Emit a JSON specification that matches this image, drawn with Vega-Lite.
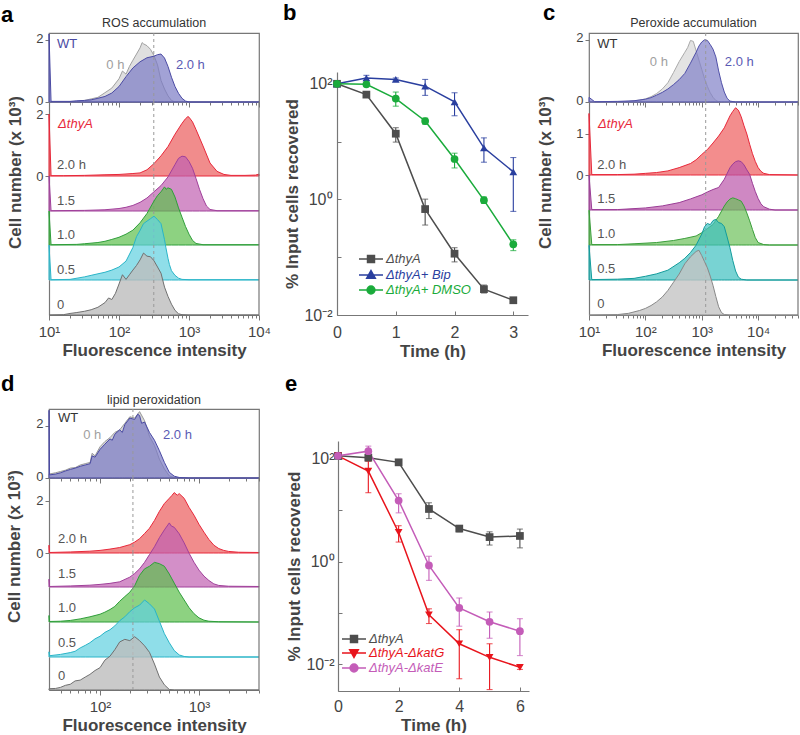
{
"$schema":"https://vega.github.io/schema/vega-lite/v6.json",
"padding":{"left":1,"top":2,"right":0,"bottom":0},
"background":"white",
"config":{"font":"Liberation Sans","view":{"stroke":null},
"axis":{"grid":false,"labelFont":"Liberation Sans","labelColor":"#444","labelFontSize":15,"titleFont":"Liberation Sans","titleFontSize":17,"titleFontWeight":"bold","titleColor":"#444","domainColor":"#777","tickColor":"#777","labelFlush":false,"labelOverlap":false,"domainWidth":1.2,"tickWidth":1},
"title":{"font":"Liberation Sans","color":"#333"},"legend":{"labelFont":"Liberation Sans"},"text":{"font":"Liberation Sans"}},
"datasets":{
"a_wt0":[{"x":10,"y":0},{"x":25,"y":0.01},{"x":32,"y":0.05},{"x":40,"y":0.1},{"x":50,"y":0.15},{"x":63,"y":0.3},{"x":79,"y":0.45},{"x":100,"y":0.75},{"x":112,"y":1.0},{"x":126,"y":0.9},{"x":141,"y":1.15},{"x":158,"y":1.35},{"x":178,"y":1.55},{"x":200,"y":1.75},{"x":214,"y":1.92},{"x":224,"y":1.88},{"x":251,"y":1.82},{"x":282,"y":1.7},{"x":316,"y":1.5},{"x":355,"y":1.2},{"x":398,"y":0.7},{"x":447,"y":0.42},{"x":501,"y":0.2},{"x":562,"y":0.05},{"x":631,"y":0},{"x":10000,"y":0}],
"a_wt2":[{"x":10,"y":2.2},{"x":10.7,"y":0.02},{"x":20,"y":0.02},{"x":25,"y":0.04},{"x":32,"y":0.05},{"x":40,"y":0.07},{"x":50,"y":0.12},{"x":63,"y":0.18},{"x":79,"y":0.29},{"x":100,"y":0.5},{"x":126,"y":0.82},{"x":158,"y":1.1},{"x":200,"y":1.3},{"x":251,"y":1.43},{"x":316,"y":1.48},{"x":355,"y":1.53},{"x":398,"y":1.55},{"x":447,"y":1.42},{"x":501,"y":1.15},{"x":562,"y":0.8},{"x":631,"y":0.5},{"x":708,"y":0.28},{"x":794,"y":0.12},{"x":891,"y":0.03},{"x":1000,"y":0},{"x":10000,"y":0}],
"a_20":[{"x":10,"y":2.0},{"x":10.7,"y":0.01},{"x":16,"y":0.01},{"x":32,"y":0.02},{"x":63,"y":0.04},{"x":100,"y":0.05},{"x":158,"y":0.08},{"x":200,"y":0.1},{"x":251,"y":0.2},{"x":316,"y":0.4},{"x":398,"y":0.65},{"x":501,"y":0.95},{"x":631,"y":1.35},{"x":794,"y":1.7},{"x":891,"y":1.85},{"x":966,"y":1.92},{"x":1000,"y":1.9},{"x":1122,"y":1.75},{"x":1259,"y":1.5},{"x":1585,"y":0.97},{"x":1995,"y":0.42},{"x":2512,"y":0.15},{"x":3162,"y":0.05},{"x":3981,"y":0.02},{"x":6310,"y":0.02},{"x":8913,"y":0.03},{"x":10000,"y":0.06}],
"a_15":[{"x":10,"y":1.13},{"x":10.7,"y":0.01},{"x":32,"y":0.02},{"x":63,"y":0.04},{"x":100,"y":0.08},{"x":126,"y":0.12},{"x":158,"y":0.18},{"x":200,"y":0.28},{"x":251,"y":0.42},{"x":316,"y":0.62},{"x":398,"y":0.82},{"x":501,"y":1.1},{"x":631,"y":1.5},{"x":708,"y":1.7},{"x":794,"y":1.77},{"x":891,"y":1.75},{"x":1000,"y":1.6},{"x":1122,"y":1.38},{"x":1259,"y":1.05},{"x":1413,"y":0.7},{"x":1585,"y":0.4},{"x":1778,"y":0.16},{"x":1995,"y":0.05},{"x":2512,"y":0.01},{"x":10000,"y":0.01}],
"a_10":[{"x":10,"y":1.1},{"x":10.7,"y":0.01},{"x":25,"y":0.02},{"x":32,"y":0.04},{"x":50,"y":0.08},{"x":63,"y":0.12},{"x":79,"y":0.18},{"x":100,"y":0.25},{"x":126,"y":0.35},{"x":158,"y":0.48},{"x":200,"y":0.72},{"x":251,"y":1.02},{"x":316,"y":1.42},{"x":355,"y":1.6},{"x":398,"y":1.72},{"x":447,"y":1.88},{"x":470,"y":1.8},{"x":501,"y":1.85},{"x":562,"y":1.8},{"x":631,"y":1.55},{"x":708,"y":1.2},{"x":794,"y":0.9},{"x":891,"y":0.6},{"x":1000,"y":0.35},{"x":1122,"y":0.15},{"x":1259,"y":0.05},{"x":1585,"y":0.01},{"x":10000,"y":0.01}],
"a_05":[{"x":10,"y":1.13},{"x":10.7,"y":0.01},{"x":20,"y":0.02},{"x":32,"y":0.1},{"x":40,"y":0.15},{"x":50,"y":0.2},{"x":63,"y":0.25},{"x":79,"y":0.32},{"x":100,"y":0.42},{"x":126,"y":0.61},{"x":158,"y":1.05},{"x":178,"y":1.4},{"x":200,"y":1.6},{"x":224,"y":1.82},{"x":251,"y":1.9},{"x":282,"y":1.98},{"x":316,"y":2.06},{"x":355,"y":1.95},{"x":398,"y":1.82},{"x":447,"y":1.3},{"x":468,"y":1.04},{"x":501,"y":0.7},{"x":525,"y":0.5},{"x":562,"y":0.3},{"x":631,"y":0.15},{"x":708,"y":0.06},{"x":794,"y":0.02},{"x":1000,"y":0.01},{"x":10000,"y":0.01}],
"a_00":[{"x":10,"y":0},{"x":16,"y":0.01},{"x":20,"y":0.05},{"x":25,"y":0.08},{"x":32,"y":0.12},{"x":40,"y":0.17},{"x":50,"y":0.25},{"x":63,"y":0.4},{"x":71,"y":0.55},{"x":79,"y":0.5},{"x":89,"y":0.7},{"x":100,"y":1.0},{"x":112,"y":1.3},{"x":126,"y":1.15},{"x":141,"y":1.3},{"x":158,"y":1.45},{"x":178,"y":1.6},{"x":200,"y":1.78},{"x":224,"y":2.0},{"x":251,"y":1.9},{"x":282,"y":1.88},{"x":316,"y":1.75},{"x":355,"y":1.55},{"x":398,"y":1.35},{"x":447,"y":0.9},{"x":501,"y":0.6},{"x":562,"y":0.35},{"x":631,"y":0.15},{"x":708,"y":0.04},{"x":794,"y":0.01},{"x":1000,"y":0},{"x":10000,"y":0}],
"c_wt0":[{"x":10,"y":0},{"x":32,"y":0.01},{"x":50,"y":0.02},{"x":79,"y":0.06},{"x":100,"y":0.1},{"x":126,"y":0.17},{"x":158,"y":0.27},{"x":200,"y":0.42},{"x":251,"y":0.62},{"x":316,"y":0.95},{"x":398,"y":1.3},{"x":501,"y":1.6},{"x":562,"y":1.75},{"x":631,"y":1.98},{"x":708,"y":1.95},{"x":794,"y":1.65},{"x":891,"y":1.35},{"x":1000,"y":1.05},{"x":1122,"y":0.75},{"x":1259,"y":0.5},{"x":1413,"y":0.3},{"x":1585,"y":0.15},{"x":1778,"y":0.05},{"x":1995,"y":0.01},{"x":2512,"y":0},{"x":51000,"y":0}],
"c_wt2":[{"x":10,"y":0.15},{"x":12.6,"y":0.01},{"x":32,"y":0.02},{"x":63,"y":0.04},{"x":100,"y":0.09},{"x":126,"y":0.14},{"x":158,"y":0.22},{"x":200,"y":0.31},{"x":251,"y":0.42},{"x":316,"y":0.56},{"x":398,"y":0.72},{"x":501,"y":0.92},{"x":631,"y":1.25},{"x":794,"y":1.6},{"x":891,"y":1.8},{"x":1000,"y":1.93},{"x":1122,"y":2.0},{"x":1259,"y":1.98},{"x":1413,"y":1.85},{"x":1585,"y":1.7},{"x":1778,"y":1.45},{"x":1995,"y":1.0},{"x":2239,"y":0.62},{"x":2512,"y":0.32},{"x":2818,"y":0.12},{"x":3162,"y":0.03},{"x":3981,"y":0},{"x":51000,"y":0}],
"c_20":[{"x":10,"y":1.5},{"x":11.2,"y":0.01},{"x":32,"y":0.01},{"x":63,"y":0.02},{"x":100,"y":0.04},{"x":158,"y":0.06},{"x":251,"y":0.1},{"x":398,"y":0.18},{"x":631,"y":0.28},{"x":794,"y":0.37},{"x":1000,"y":0.5},{"x":1259,"y":0.62},{"x":1585,"y":0.78},{"x":1995,"y":0.95},{"x":2512,"y":1.15},{"x":3162,"y":1.44},{"x":3548,"y":1.55},{"x":3981,"y":1.64},{"x":4467,"y":1.58},{"x":5012,"y":1.42},{"x":5623,"y":1.2},{"x":6310,"y":1.0},{"x":7079,"y":0.75},{"x":7943,"y":0.52},{"x":8913,"y":0.33},{"x":10000,"y":0.18},{"x":11220,"y":0.09},{"x":12589,"y":0.04},{"x":15849,"y":0.01},{"x":51000,"y":0}],
"c_15":[{"x":10,"y":0.85},{"x":11.2,"y":0.01},{"x":32,"y":0.01},{"x":100,"y":0.05},{"x":200,"y":0.1},{"x":398,"y":0.18},{"x":631,"y":0.27},{"x":1000,"y":0.37},{"x":1259,"y":0.44},{"x":1585,"y":0.5},{"x":1995,"y":0.55},{"x":2512,"y":0.75},{"x":3162,"y":1.03},{"x":3548,"y":1.12},{"x":3981,"y":1.18},{"x":4467,"y":1.2},{"x":5012,"y":1.18},{"x":5623,"y":1.1},{"x":6310,"y":0.98},{"x":7079,"y":0.87},{"x":7943,"y":0.65},{"x":8913,"y":0.45},{"x":10000,"y":0.28},{"x":11220,"y":0.15},{"x":12589,"y":0.08},{"x":15849,"y":0.02},{"x":19953,"y":0},{"x":51000,"y":0}],
"c_10":[{"x":10,"y":0.85},{"x":11.2,"y":0.01},{"x":32,"y":0.01},{"x":63,"y":0.03},{"x":158,"y":0.06},{"x":316,"y":0.11},{"x":501,"y":0.16},{"x":794,"y":0.22},{"x":1000,"y":0.3},{"x":1259,"y":0.4},{"x":1585,"y":0.5},{"x":1995,"y":0.7},{"x":2512,"y":0.95},{"x":2818,"y":1.05},{"x":3162,"y":1.12},{"x":3548,"y":1.15},{"x":3981,"y":1.13},{"x":4467,"y":1.1},{"x":5012,"y":1.07},{"x":5623,"y":0.95},{"x":6310,"y":0.78},{"x":7079,"y":0.59},{"x":7943,"y":0.38},{"x":8913,"y":0.18},{"x":10000,"y":0.06},{"x":12589,"y":0.01},{"x":15849,"y":0},{"x":51000,"y":0}],
"c_05":[{"x":10,"y":0.85},{"x":11.2,"y":0.01},{"x":32,"y":0.02},{"x":63,"y":0.04},{"x":100,"y":0.09},{"x":158,"y":0.15},{"x":251,"y":0.24},{"x":398,"y":0.42},{"x":501,"y":0.53},{"x":631,"y":0.67},{"x":794,"y":0.85},{"x":1000,"y":1.12},{"x":1122,"y":1.3},{"x":1259,"y":1.38},{"x":1413,"y":1.35},{"x":1585,"y":1.45},{"x":1778,"y":1.48},{"x":1995,"y":1.4},{"x":2239,"y":1.38},{"x":2512,"y":1.3},{"x":2818,"y":1.05},{"x":3162,"y":0.79},{"x":3548,"y":0.48},{"x":3981,"y":0.22},{"x":4467,"y":0.07},{"x":5012,"y":0.02},{"x":6310,"y":0},{"x":51000,"y":0}],
"c_00":[{"x":10,"y":0},{"x":32,"y":0.01},{"x":50,"y":0.04},{"x":79,"y":0.11},{"x":100,"y":0.16},{"x":126,"y":0.23},{"x":158,"y":0.32},{"x":200,"y":0.44},{"x":251,"y":0.6},{"x":316,"y":0.8},{"x":398,"y":1.0},{"x":501,"y":1.25},{"x":631,"y":1.42},{"x":794,"y":1.55},{"x":891,"y":1.58},{"x":1000,"y":1.45},{"x":1122,"y":1.3},{"x":1259,"y":1.15},{"x":1413,"y":0.95},{"x":1585,"y":0.72},{"x":1778,"y":0.45},{"x":1995,"y":0.2},{"x":2239,"y":0.06},{"x":2512,"y":0.01},{"x":3162,"y":0},{"x":51000,"y":0}],
"d_wt0":[{"x":30.5,"y":0.15},{"x":35.5,"y":0.2},{"x":39.8,"y":0.25},{"x":44.7,"y":0.3},{"x":50.1,"y":0.38},{"x":56.2,"y":0.4},{"x":63.1,"y":0.5},{"x":70.8,"y":0.55},{"x":79.4,"y":0.6},{"x":83.2,"y":0.95},{"x":89.1,"y":0.85},{"x":100,"y":1.2},{"x":112,"y":1.4},{"x":126,"y":1.55},{"x":141,"y":1.75},{"x":158,"y":1.85},{"x":178,"y":2.1},{"x":200,"y":2.35},{"x":224,"y":2.3},{"x":251,"y":2.55},{"x":282,"y":2.2},{"x":316,"y":1.6},{"x":355,"y":1.25},{"x":398,"y":0.72},{"x":447,"y":0.35},{"x":501,"y":0.08},{"x":562,"y":0.02},{"x":631,"y":0},{"x":4040,"y":0}],
"d_wt2":[{"x":30.5,"y":2.6},{"x":30.9,"y":0.12},{"x":35.5,"y":0.15},{"x":39.8,"y":0.2},{"x":44.7,"y":0.27},{"x":50.1,"y":0.33},{"x":56.2,"y":0.38},{"x":63.1,"y":0.45},{"x":70.8,"y":0.5},{"x":79.4,"y":0.55},{"x":83.2,"y":0.85},{"x":89.1,"y":0.8},{"x":100,"y":1.1},{"x":112,"y":1.3},{"x":126,"y":1.5},{"x":133,"y":1.45},{"x":141,"y":1.68},{"x":158,"y":1.85},{"x":168,"y":1.75},{"x":178,"y":2.05},{"x":200,"y":2.3},{"x":224,"y":2.25},{"x":240,"y":2.45},{"x":251,"y":2.4},{"x":263,"y":2.1},{"x":282,"y":2.15},{"x":316,"y":1.75},{"x":355,"y":1.45},{"x":398,"y":1.05},{"x":447,"y":0.6},{"x":501,"y":0.22},{"x":562,"y":0.07},{"x":631,"y":0.02},{"x":794,"y":0},{"x":4040,"y":0}],
"d_20":[{"x":30.5,"y":0.3},{"x":30.9,"y":0.02},{"x":50,"y":0.04},{"x":79,"y":0.07},{"x":100,"y":0.1},{"x":126,"y":0.15},{"x":158,"y":0.21},{"x":200,"y":0.32},{"x":224,"y":0.42},{"x":251,"y":0.55},{"x":282,"y":0.75},{"x":316,"y":0.95},{"x":355,"y":1.25},{"x":398,"y":1.6},{"x":447,"y":1.9},{"x":501,"y":2.1},{"x":530,"y":2.2},{"x":562,"y":2.32},{"x":603,"y":2.22},{"x":631,"y":2.28},{"x":708,"y":2.1},{"x":794,"y":1.75},{"x":891,"y":1.45},{"x":1000,"y":1.1},{"x":1122,"y":0.8},{"x":1259,"y":0.52},{"x":1413,"y":0.3},{"x":1585,"y":0.17},{"x":1778,"y":0.1},{"x":1995,"y":0.06},{"x":2512,"y":0.03},{"x":4040,"y":0.02}],
"d_15":[{"x":30.5,"y":0.3},{"x":30.9,"y":0.02},{"x":50,"y":0.04},{"x":79,"y":0.07},{"x":100,"y":0.1},{"x":126,"y":0.14},{"x":158,"y":0.2},{"x":200,"y":0.38},{"x":224,"y":0.52},{"x":251,"y":0.7},{"x":282,"y":0.95},{"x":316,"y":1.25},{"x":355,"y":1.55},{"x":398,"y":1.9},{"x":447,"y":2.2},{"x":501,"y":2.47},{"x":525,"y":2.35},{"x":562,"y":2.3},{"x":631,"y":2.05},{"x":708,"y":1.7},{"x":794,"y":1.3},{"x":891,"y":0.95},{"x":1000,"y":0.65},{"x":1122,"y":0.42},{"x":1259,"y":0.25},{"x":1413,"y":0.12},{"x":1585,"y":0.06},{"x":1995,"y":0.03},{"x":4040,"y":0.02}],
"d_10":[{"x":30.5,"y":0.25},{"x":30.9,"y":0.02},{"x":39.8,"y":0.03},{"x":50,"y":0.06},{"x":63,"y":0.12},{"x":79,"y":0.2},{"x":100,"y":0.3},{"x":112,"y":0.38},{"x":126,"y":0.48},{"x":141,"y":0.6},{"x":158,"y":0.8},{"x":178,"y":0.98},{"x":200,"y":1.15},{"x":224,"y":1.4},{"x":251,"y":1.8},{"x":282,"y":2.05},{"x":316,"y":2.15},{"x":355,"y":2.3},{"x":398,"y":2.25},{"x":447,"y":2.15},{"x":501,"y":1.85},{"x":562,"y":1.5},{"x":631,"y":1.15},{"x":708,"y":0.85},{"x":794,"y":0.55},{"x":891,"y":0.32},{"x":1000,"y":0.16},{"x":1122,"y":0.07},{"x":1259,"y":0.03},{"x":1585,"y":0.01},{"x":4040,"y":0}],
"d_05":[{"x":30.5,"y":0.2},{"x":30.9,"y":0.05},{"x":39.8,"y":0.1},{"x":50,"y":0.17},{"x":56,"y":0.22},{"x":63,"y":0.35},{"x":71,"y":0.45},{"x":79,"y":0.55},{"x":89,"y":0.7},{"x":100,"y":0.8},{"x":112,"y":0.95},{"x":126,"y":1.05},{"x":141,"y":1.2},{"x":158,"y":1.4},{"x":178,"y":1.55},{"x":200,"y":1.75},{"x":224,"y":1.9},{"x":251,"y":2.0},{"x":282,"y":2.2},{"x":316,"y":2.05},{"x":355,"y":1.85},{"x":398,"y":1.38},{"x":447,"y":0.9},{"x":501,"y":0.55},{"x":562,"y":0.25},{"x":631,"y":0.08},{"x":708,"y":0.02},{"x":794,"y":0},{"x":4040,"y":0}],
"d_00":[{"x":30.5,"y":0.05},{"x":35.5,"y":0.06},{"x":39.8,"y":0.1},{"x":44.7,"y":0.18},{"x":50,"y":0.22},{"x":56,"y":0.35},{"x":63,"y":0.38},{"x":71,"y":0.5},{"x":79,"y":0.6},{"x":89,"y":0.75},{"x":100,"y":0.86},{"x":112,"y":1.15},{"x":126,"y":1.3},{"x":141,"y":1.55},{"x":158,"y":1.85},{"x":178,"y":1.95},{"x":200,"y":1.9},{"x":224,"y":2.05},{"x":251,"y":1.9},{"x":282,"y":1.7},{"x":316,"y":1.45},{"x":355,"y":1.0},{"x":398,"y":0.5},{"x":447,"y":0.2},{"x":501,"y":0.02},{"x":562,"y":0},{"x":4040,"y":0}],
"b":[
{"s":"ΔthyA","t":0,"v":100,"lo":96,"hi":104},{"s":"ΔthyA","t":0.5,"v":65,"lo":58,"hi":72},{"s":"ΔthyA","t":1,"v":13.7,"lo":9.8,"hi":17.4},{"s":"ΔthyA","t":1.5,"v":0.68,"lo":0.36,"hi":1.01},{"s":"ΔthyA","t":2,"v":0.115,"lo":0.083,"hi":0.146},{"s":"ΔthyA","t":2.5,"v":0.028,"lo":0.024,"hi":0.033},{"s":"ΔthyA","t":3,"v":0.018,"lo":0.0165,"hi":0.0195},
{"s":"ΔthyA+ Bip","t":0,"v":100,"lo":96,"hi":104},{"s":"ΔthyA+ Bip","t":0.5,"v":126,"lo":112,"hi":140},{"s":"ΔthyA+ Bip","t":1,"v":119,"lo":112,"hi":126},{"s":"ΔthyA+ Bip","t":1.5,"v":91,"lo":63,"hi":119},{"s":"ΔthyA+ Bip","t":2,"v":48.6,"lo":28,"hi":70},{"s":"ΔthyA+ Bip","t":2.5,"v":7.8,"lo":4.4,"hi":11.6},{"s":"ΔthyA+ Bip","t":3,"v":3.0,"lo":0.62,"hi":5.3},
{"s":"ΔthyA+ DMSO","t":0,"v":100,"lo":96,"hi":104},{"s":"ΔthyA+ DMSO","t":0.5,"v":98,"lo":93,"hi":103},{"s":"ΔthyA+ DMSO","t":1,"v":55.5,"lo":41,"hi":72},{"s":"ΔthyA+ DMSO","t":1.5,"v":22.7,"lo":20,"hi":25.5},{"s":"ΔthyA+ DMSO","t":2,"v":5.0,"lo":3.5,"hi":6.3},{"s":"ΔthyA+ DMSO","t":2.5,"v":0.97,"lo":0.85,"hi":1.1},{"s":"ΔthyA+ DMSO","t":3,"v":0.167,"lo":0.13,"hi":0.2}],
"e":[
{"s":"ΔthyA","t":0,"v":115,"lo":110,"hi":120},{"s":"ΔthyA","t":1,"v":106,"lo":100,"hi":112},{"s":"ΔthyA","t":2,"v":86,"lo":80,"hi":92},{"s":"ΔthyA","t":3,"v":10.6,"lo":6.9,"hi":14},{"s":"ΔthyA","t":4,"v":4.4,"lo":3.8,"hi":5.0},{"s":"ΔthyA","t":5,"v":3.0,"lo":2.1,"hi":3.8},{"s":"ΔthyA","t":6,"v":3.16,"lo":1.85,"hi":4.3},
{"s":"ΔthyA-ΔkatG","t":0,"v":115,"lo":110,"hi":120},{"s":"ΔthyA-ΔkatG","t":1,"v":58,"lo":22,"hi":90},{"s":"ΔthyA-ΔkatG","t":2,"v":3.7,"lo":2.4,"hi":5.0},{"s":"ΔthyA-ΔkatG","t":3,"v":0.092,"lo":0.062,"hi":0.12},{"s":"ΔthyA-ΔkatG","t":4,"v":0.025,"lo":0.0052,"hi":0.047},{"s":"ΔthyA-ΔkatG","t":5,"v":0.0136,"lo":0.0032,"hi":0.025},{"s":"ΔthyA-ΔkatG","t":6,"v":0.0087,"lo":0.0079,"hi":0.0096},
{"s":"ΔthyA-ΔkatE","t":0,"v":115,"lo":110,"hi":120},{"s":"ΔthyA-ΔkatE","t":1,"v":142,"lo":106,"hi":178},{"s":"ΔthyA-ΔkatE","t":2,"v":15.5,"lo":8.9,"hi":21},{"s":"ΔthyA-ΔkatE","t":3,"v":0.84,"lo":0.43,"hi":1.27},{"s":"ΔthyA-ΔkatE","t":4,"v":0.125,"lo":0.055,"hi":0.195},{"s":"ΔthyA-ΔkatE","t":5,"v":0.067,"lo":0.032,"hi":0.104},{"s":"ΔthyA-ΔkatE","t":6,"v":0.044,"lo":0.0147,"hi":0.077}]
},
"resolve":{"scale":{"color":"independent","shape":"independent","fill":"independent","stroke":"independent"}},
"vconcat":[
{"resolve":{"scale":{"color":"independent","shape":"independent","fill":"independent","stroke":"independent"}},
 "hconcat":[
 {"resolve":{"scale":{"color":"independent","shape":"independent","fill":"independent","stroke":"independent"}},
  "hconcat":[
  {"vconcat":[
    {"width":210,"height":0,"data":{"values":[]},"mark":"point","encoding":{},
     "title":{"text":"a","anchor":"start","frame":"group","dx":-48,"fontSize":22,"fontWeight":"bold","color":"#000","offset":-31,"baseline":"alphabetic"}},
    {"width":210,"height":69,"view":{"stroke":"#777","strokeWidth":1.2},
     "title":{"text":"ROS accumulation","fontSize":12.5,"fontWeight":"normal","color":"#333","offset":2},
     "layer":[
      {"data":{"name":"a_wt0"},"mark":{"type":"area","fill":"#d9d9d9","fillOpacity":0.85,"stroke":"#a0a0a0","strokeWidth":1},
       "encoding":{"x":{"field":"x","type":"quantitative","scale":{"type":"log","domain":[10,10000],"nice":false},"axis":{"orient":"bottom","values":[10,20,30,40,50,60,70,80,90,100,200,300,400,500,600,700,800,900,1000,2000,3000,4000,5000,6000,7000,8000,9000,10000],"labels":false,"domain":false,"title":null,"tickSize":{"condition":{"test":"datum.value === 10 || datum.value === 100 || datum.value === 1000 || datum.value === 10000","value":5},"value":3}}},
        "y":{"field":"y","type":"quantitative","scale":{"domain":[0,2.23],"nice":false},"axis":{"values":[0,1,2],"title":null,"domain":false,"tickSize":4,"labelFontSize":13,"labelPadding":2,"labelOffset":-2}}}},
      {"data":{"name":"a_wt2"},"mark":{"type":"area","fill":"#7b7bc4","fillOpacity":0.7,"stroke":"#4a4aa3","strokeWidth":1},"encoding":{"x":{"field":"x","type":"quantitative"},"y":{"field":"y","type":"quantitative"}}},
      {"data":{"values":[{}]},"mark":{"type":"rule","stroke":"#999","strokeDash":[3,3],"strokeWidth":1},"encoding":{"x":{"datum":314}}},
      {"data":{"values":[{}]},"mark":{"type":"text","align":"left","baseline":"middle","fontSize":13,"color":"#4a4aa3"},"encoding":{"x":{"datum":13},"y":{"datum":1.87},"text":{"value":"WT"}}},
      {"data":{"values":[{}]},"mark":{"type":"text","align":"left","baseline":"middle","fontSize":13,"color":"#a0a0a0"},"encoding":{"x":{"datum":66},"y":{"datum":1.2},"text":{"value":"0 h"}}},
      {"data":{"values":[{}]},"mark":{"type":"text","align":"left","baseline":"middle","fontSize":13,"color":"#5a5ab4"},"encoding":{"x":{"datum":650},"y":{"datum":1.2},"text":{"value":"2.0 h"}}}
     ]},
    {"width":210,"height":74,
     "layer":[
      {"data":{"name":"a_20"},"mark":{"type":"area","fill":"#ee6f6f","fillOpacity":0.8,"stroke":"#e8283a","strokeWidth":1},
       "encoding":{"x":{"field":"x","type":"quantitative","scale":{"type":"log","domain":[10,10000],"nice":false},"axis":null},
        "y":{"field":"y","type":"quantitative","scale":{"domain":[0,2.39],"nice":false},"axis":{"values":[0,1,2],"title":"Cell number (x 10³)","titleX":-34,"titleY":70,"titleAlign":"center","titleBaseline":"middle","titleAngle":270,"tickSize":4,"labelFontSize":13,"labelPadding":2}}}},
      {"data":{"values":[{}]},"mark":{"type":"rule","stroke":"#999","strokeDash":[3,3],"strokeWidth":1},"encoding":{"x":{"datum":314}}},
      {"data":{"values":[{}]},"mark":{"type":"rule","stroke":"#777","strokeWidth":1.2},"encoding":{"x":{"datum":10000}}},
      {"data":{"values":[{}]},"mark":{"type":"text","align":"left","baseline":"middle","fontSize":13,"fontStyle":"italic","color":"#e8283a"},"encoding":{"x":{"datum":13.5},"y":{"datum":1.68},"text":{"value":"ΔthyA"}}},
      {"data":{"values":[{}]},"mark":{"type":"text","align":"left","baseline":"middle","fontSize":13,"color":"#555"},"encoding":{"x":{"datum":13},"y":{"datum":0.35},"text":{"value":"2.0 h"}}}
     ]},
    {"width":210,"height":35,
     "layer":[
      {"data":{"name":"a_15"},"mark":{"type":"area","fill":"#c060b0","fillOpacity":0.7,"stroke":"#a0409a","strokeWidth":1},
       "encoding":{"x":{"field":"x","type":"quantitative","scale":{"type":"log","domain":[10,10000],"nice":false},"axis":null},
        "y":{"field":"y","type":"quantitative","scale":{"domain":[0,1.13],"nice":false},"axis":{"title":null,"ticks":false,"labels":false}}}},
      {"data":{"values":[{}]},"mark":{"type":"rule","stroke":"#999","strokeDash":[3,3],"strokeWidth":1},"encoding":{"x":{"datum":314}}},
      {"data":{"values":[{}]},"mark":{"type":"rule","stroke":"#777","strokeWidth":1.2},"encoding":{"x":{"datum":10000}}},
      {"data":{"values":[{}]},"mark":{"type":"text","align":"left","baseline":"middle","fontSize":13,"color":"#555"},"encoding":{"x":{"datum":13},"y":{"datum":0.32},"text":{"value":"1.5"}}}
     ]},
    {"width":210,"height":34,
     "layer":[
      {"data":{"name":"a_10"},"mark":{"type":"area","fill":"#5cbf4c","fillOpacity":0.7,"stroke":"#2f9e3a","strokeWidth":1},
       "encoding":{"x":{"field":"x","type":"quantitative","scale":{"type":"log","domain":[10,10000],"nice":false},"axis":null},
        "y":{"field":"y","type":"quantitative","scale":{"domain":[0,1.1],"nice":false},"axis":{"title":null,"ticks":false,"labels":false}}}},
      {"data":{"values":[{}]},"mark":{"type":"rule","stroke":"#999","strokeDash":[3,3],"strokeWidth":1},"encoding":{"x":{"datum":314}}},
      {"data":{"values":[{}]},"mark":{"type":"rule","stroke":"#777","strokeWidth":1.2},"encoding":{"x":{"datum":10000}}},
      {"data":{"values":[{}]},"mark":{"type":"text","align":"left","baseline":"middle","fontSize":13,"color":"#555"},"encoding":{"x":{"datum":13},"y":{"datum":0.32},"text":{"value":"1.0"}}}
     ]},
    {"width":210,"height":35,
     "layer":[
      {"data":{"name":"a_05"},"mark":{"type":"area","fill":"#5fd0e0","fillOpacity":0.7,"stroke":"#2ab5c8","strokeWidth":1},
       "encoding":{"x":{"field":"x","type":"quantitative","scale":{"type":"log","domain":[10,10000],"nice":false},"axis":null},
        "y":{"field":"y","type":"quantitative","scale":{"domain":[0,1.13],"nice":false},"axis":{"title":null,"ticks":false,"labels":false}}}},
      {"data":{"values":[{}]},"mark":{"type":"rule","stroke":"#999","strokeDash":[3,3],"strokeWidth":1},"encoding":{"x":{"datum":314}}},
      {"data":{"values":[{}]},"mark":{"type":"rule","stroke":"#777","strokeWidth":1.2},"encoding":{"x":{"datum":10000}}},
      {"data":{"values":[{}]},"mark":{"type":"text","align":"left","baseline":"middle","fontSize":13,"color":"#555"},"encoding":{"x":{"datum":13},"y":{"datum":0.32},"text":{"value":"0.5"}}}
     ]},
    {"width":210,"height":35,
     "layer":[
      {"data":{"name":"a_00"},"mark":{"type":"area","fill":"#bdbdbd","fillOpacity":0.8,"stroke":"#707070","strokeWidth":1},
       "encoding":{"x":{"field":"x","type":"quantitative","scale":{"type":"log","domain":[10,10000],"nice":false},"axis":{"values":[10,20,30,40,50,60,70,80,90,100,200,300,400,500,600,700,800,900,1000,2000,3000,4000,5000,6000,7000,8000,9000,10000],"labelExpr":"datum.value === 10 ? '10¹' : datum.value === 100 ? '10²' : datum.value === 1000 ? '10³' : datum.value === 10000 ? '10⁴' : ''","tickSize":{"condition":{"test":"datum.value === 10 || datum.value === 100 || datum.value === 1000 || datum.value === 10000","value":5},"value":3},"title":"Fluorescence intensity","labelPadding":4,"titlePadding":3}},
        "y":{"field":"y","type":"quantitative","scale":{"domain":[0,1.13],"nice":false},"axis":{"title":null,"ticks":false,"labels":false}}}},
      {"data":{"values":[{}]},"mark":{"type":"rule","stroke":"#999","strokeDash":[3,3],"strokeWidth":1},"encoding":{"x":{"datum":314}}},
      {"data":{"values":[{}]},"mark":{"type":"rule","stroke":"#777","strokeWidth":1.2},"encoding":{"x":{"datum":10000}}},
      {"data":{"values":[{}]},"mark":{"type":"text","align":"left","baseline":"middle","fontSize":13,"color":"#555"},"encoding":{"x":{"datum":13},"y":{"datum":0.32},"text":{"value":"0"}}}
     ]}
  ],"spacing":0,"bounds":"flush"},
  {"resolve":{"scale":{"color":"independent","shape":"independent","fill":"independent","stroke":"independent"}},
   "vconcat":[
   {"width":191,"height":59,"data":{"values":[]},"mark":"point","encoding":{},
    "title":{"text":"b","anchor":"start","frame":"group","dx":-54,"fontSize":22,"fontWeight":"bold","color":"#000","offset":-29,"baseline":"alphabetic"}},
   {"width":191,"height":243,"data":{"name":"b"},
    "layer":[
     {"mark":{"type":"errorbar","ticks":{"size":6},"thickness":1.1},
      "encoding":{"x":{"field":"t","type":"quantitative","title":"Time (h)","scale":{"domain":[0,3.25],"nice":false},"axis":{"values":[0,0.5,1,1.5,2,2.5,3],"labelExpr":"datum.value % 1 === 0 ? format(datum.value, 'd') : ''","tickSize":-4,"labelPadding":13,"labelFontSize":16,"titlePadding":3}},
       "y":{"field":"lo","type":"quantitative","title":"% Input cells recovered","scale":{"type":"log","domain":[0.01,160],"nice":false},"axis":{"values":[0.01,0.1,1,10,100],"labelExpr":"datum.value === 100 ? '10²' : datum.value === 1 ? '10⁰' : datum.value === 0.01 ? '10⁻²' : ''","tickSize":-4,"labelPadding":9,"labelFontSize":16,"titlePadding":2}},
       "y2":{"field":"hi"},
       "color":{"field":"s","type":"nominal","scale":{"domain":["ΔthyA","ΔthyA+ Bip","ΔthyA+ DMSO"],"range":["#4d4d4d","#2a3f9f","#1aab3b"]},"legend":null}}},
     {"mark":{"type":"line","strokeWidth":1.5},
      "encoding":{"x":{"field":"t","type":"quantitative","title":"Time (h)"},"y":{"field":"v","type":"quantitative","title":"% Input cells recovered"},"color":{"field":"s","type":"nominal","legend":null}}},
     {"mark":{"type":"point","filled":true,"opacity":1,"size":60},
      "encoding":{"x":{"field":"t","type":"quantitative","title":"Time (h)"},"y":{"field":"v","type":"quantitative","title":"% Input cells recovered"},"color":{"field":"s","type":"nominal","legend":null},
       "shape":{"field":"s","type":"nominal","scale":{"domain":["ΔthyA","ΔthyA+ Bip","ΔthyA+ DMSO"],"range":["square","triangle-up","circle"]},"legend":null}}},
     {"transform":[{"filter":"false"}],"mark":{"type":"point","filled":true,"opacity":1},
      "encoding":{
       "shape":{"field":"s","type":"nominal","scale":{"domain":["ΔthyA","ΔthyA+ Bip","ΔthyA+ DMSO"],"range":["M-2,0H2M-0.58,-0.58H0.58V0.58H-0.58Z","M-2,0H2M0,-0.75L0.72,0.55H-0.72Z","M-2,0H2M0.65,0A0.65,0.65,0,1,1,-0.65,0A0.65,0.65,0,1,1,0.65,0Z"]},"legend":{"title":null,"orient":"none","legendX":27,"legendY":180,"symbolSize":144,"symbolStrokeWidth":1.5,"labelFontSize":13,"labelFontStyle":"italic","labelOffset":8,"rowPadding":1,"padding":0,"labelColor":{"expr":"datum.value === 'ΔthyA' ? '#4d4d4d' : datum.value === 'ΔthyA+ Bip' ? '#2a3f9f' : '#1aab3b'"}}},
       "fill":{"field":"s","type":"nominal","scale":{"domain":["ΔthyA","ΔthyA+ Bip","ΔthyA+ DMSO"],"range":["#4d4d4d","#2a3f9f","#1aab3b"]},"legend":{"title":null,"orient":"none","legendX":27,"legendY":180,"symbolSize":144,"symbolStrokeWidth":1.5,"labelFontSize":13,"labelFontStyle":"italic","labelOffset":8,"rowPadding":1,"padding":0,"labelColor":{"expr":"datum.value === 'ΔthyA' ? '#4d4d4d' : datum.value === 'ΔthyA+ Bip' ? '#2a3f9f' : '#1aab3b'"}}},
       "stroke":{"field":"s","type":"nominal","scale":{"domain":["ΔthyA","ΔthyA+ Bip","ΔthyA+ DMSO"],"range":["#4d4d4d","#2a3f9f","#1aab3b"]},"legend":{"title":null,"orient":"none","legendX":27,"legendY":180,"symbolSize":144,"symbolStrokeWidth":1.5,"labelFontSize":13,"labelFontStyle":"italic","labelOffset":8,"rowPadding":1,"padding":0,"labelColor":{"expr":"datum.value === 'ΔthyA' ? '#4d4d4d' : datum.value === 'ΔthyA+ Bip' ? '#2a3f9f' : '#1aab3b'"}}}}}
    ],
    "resolve":{"scale":{"shape":"independent","fill":"independent","stroke":"independent"}}}
  ],"spacing":0,"bounds":"flush"}
 ],"spacing":12},
 {"vconcat":[
   {"width":209,"height":0,"data":{"values":[]},"mark":"point","encoding":{},
    "title":{"text":"c","anchor":"start","frame":"group","dx":-46,"fontSize":22,"fontWeight":"bold","color":"#000","offset":-29,"baseline":"alphabetic"}},
   {"width":209,"height":69,"view":{"stroke":"#777","strokeWidth":1.2},
    "title":{"text":"Peroxide accumulation","fontSize":12.5,"fontWeight":"normal","color":"#333","offset":2},
    "layer":[
     {"data":{"name":"c_wt0"},"mark":{"type":"area","fill":"#dedede","fillOpacity":0.85,"stroke":"#aaaaaa","strokeWidth":1},
      "encoding":{"x":{"field":"x","type":"quantitative","scale":{"type":"log","domain":[10,51000],"nice":false},"axis":{"orient":"bottom","values":[10,20,30,40,50,60,70,80,90,100,200,300,400,500,600,700,800,900,1000,2000,3000,4000,5000,6000,7000,8000,9000,10000,20000,30000,40000,50000],"labels":false,"domain":false,"title":null,"tickSize":{"condition":{"test":"datum.value === 10 || datum.value === 100 || datum.value === 1000 || datum.value === 10000","value":5},"value":3}}},
       "y":{"field":"y","type":"quantitative","scale":{"domain":[0,2.22],"nice":false},"axis":{"values":[0,1,2],"title":null,"domain":false,"tickSize":4,"labelFontSize":13,"labelPadding":2,"labelOffset":-2}}}},
     {"data":{"name":"c_wt2"},"mark":{"type":"area","fill":"#8080c8","fillOpacity":0.7,"stroke":"#5050a8","strokeWidth":1},"encoding":{"x":{"field":"x","type":"quantitative"},"y":{"field":"y","type":"quantitative"}}},
     {"data":{"values":[{}]},"mark":{"type":"rule","stroke":"#999","strokeDash":[3,3],"strokeWidth":1},"encoding":{"x":{"datum":1175}}},
     {"data":{"values":[{}]},"mark":{"type":"text","align":"left","baseline":"middle","fontSize":13,"color":"#333"},"encoding":{"x":{"datum":14},"y":{"datum":1.87},"text":{"value":"WT"}}},
     {"data":{"values":[{}]},"mark":{"type":"text","align":"left","baseline":"middle","fontSize":13,"color":"#a0a0a0"},"encoding":{"x":{"datum":120},"y":{"datum":1.29},"text":{"value":"0 h"}}},
     {"data":{"values":[{}]},"mark":{"type":"text","align":"left","baseline":"middle","fontSize":13,"color":"#5a5ab4"},"encoding":{"x":{"datum":2570},"y":{"datum":1.29},"text":{"value":"2.0 h"}}}
    ]},
   {"width":209,"height":73,
    "layer":[
     {"data":{"name":"c_20"},"mark":{"type":"area","fill":"#f07070","fillOpacity":0.8,"stroke":"#e8283a","strokeWidth":1},
      "encoding":{"x":{"field":"x","type":"quantitative","scale":{"type":"log","domain":[10,51000],"nice":false},"axis":null},
       "y":{"field":"y","type":"quantitative","scale":{"domain":[0,1.78],"nice":false},"axis":{"values":[0,1],"title":"Cell number (x 10³)","titleX":-44,"titleY":70,"titleAlign":"center","titleBaseline":"middle","titleAngle":270,"tickSize":4,"labelFontSize":13,"labelPadding":2}}}},
     {"data":{"values":[{}]},"mark":{"type":"rule","stroke":"#999","strokeDash":[3,3],"strokeWidth":1},"encoding":{"x":{"datum":1175}}},
     {"data":{"values":[{}]},"mark":{"type":"rule","stroke":"#777","strokeWidth":1.2},"encoding":{"x":{"datum":51000}}},
     {"data":{"values":[{}]},"mark":{"type":"text","align":"left","baseline":"middle","fontSize":13,"fontStyle":"italic","color":"#e8283a"},"encoding":{"x":{"datum":14.5},"y":{"datum":1.24},"text":{"value":"ΔthyA"}}},
     {"data":{"values":[{}]},"mark":{"type":"text","align":"left","baseline":"middle","fontSize":13,"color":"#555"},"encoding":{"x":{"datum":14},"y":{"datum":0.25},"text":{"value":"2.0 h"}}}
    ]},
   {"width":209,"height":35,
    "layer":[
     {"data":{"name":"c_15"},"mark":{"type":"area","fill":"#bb55aa","fillOpacity":0.7,"stroke":"#9b3d96","strokeWidth":1},
      "encoding":{"x":{"field":"x","type":"quantitative","scale":{"type":"log","domain":[10,51000],"nice":false},"axis":null},
       "y":{"field":"y","type":"quantitative","scale":{"domain":[0,0.854],"nice":false},"axis":{"title":null,"ticks":false,"labels":false}}}},
     {"data":{"values":[{}]},"mark":{"type":"rule","stroke":"#999","strokeDash":[3,3],"strokeWidth":1},"encoding":{"x":{"datum":1175}}},
     {"data":{"values":[{}]},"mark":{"type":"rule","stroke":"#777","strokeWidth":1.2},"encoding":{"x":{"datum":51000}}},
     {"data":{"values":[{}]},"mark":{"type":"text","align":"left","baseline":"middle","fontSize":13,"color":"#555"},"encoding":{"x":{"datum":14},"y":{"datum":0.26},"text":{"value":"1.5"}}}
    ]},
   {"width":209,"height":35,
    "layer":[
     {"data":{"name":"c_10"},"mark":{"type":"area","fill":"#6cc05a","fillOpacity":0.7,"stroke":"#3a9e3a","strokeWidth":1},
      "encoding":{"x":{"field":"x","type":"quantitative","scale":{"type":"log","domain":[10,51000],"nice":false},"axis":null},
       "y":{"field":"y","type":"quantitative","scale":{"domain":[0,0.854],"nice":false},"axis":{"title":null,"ticks":false,"labels":false}}}},
     {"data":{"values":[{}]},"mark":{"type":"rule","stroke":"#999","strokeDash":[3,3],"strokeWidth":1},"encoding":{"x":{"datum":1175}}},
     {"data":{"values":[{}]},"mark":{"type":"rule","stroke":"#777","strokeWidth":1.2},"encoding":{"x":{"datum":51000}}},
     {"data":{"values":[{}]},"mark":{"type":"text","align":"left","baseline":"middle","fontSize":13,"color":"#555"},"encoding":{"x":{"datum":14},"y":{"datum":0.26},"text":{"value":"1.0"}}}
    ]},
   {"width":209,"height":35,
    "layer":[
     {"data":{"name":"c_05"},"mark":{"type":"area","fill":"#3ec0c0","fillOpacity":0.7,"stroke":"#139c9c","strokeWidth":1},
      "encoding":{"x":{"field":"x","type":"quantitative","scale":{"type":"log","domain":[10,51000],"nice":false},"axis":null},
       "y":{"field":"y","type":"quantitative","scale":{"domain":[0,0.854],"nice":false},"axis":{"title":null,"ticks":false,"labels":false}}}},
     {"data":{"values":[{}]},"mark":{"type":"rule","stroke":"#999","strokeDash":[3,3],"strokeWidth":1},"encoding":{"x":{"datum":1175}}},
     {"data":{"values":[{}]},"mark":{"type":"rule","stroke":"#777","strokeWidth":1.2},"encoding":{"x":{"datum":51000}}},
     {"data":{"values":[{}]},"mark":{"type":"text","align":"left","baseline":"middle","fontSize":13,"color":"#555"},"encoding":{"x":{"datum":14},"y":{"datum":0.26},"text":{"value":"0.5"}}}
    ]},
   {"width":209,"height":35,
    "layer":[
     {"data":{"name":"c_00"},"mark":{"type":"area","fill":"#c4c4c4","fillOpacity":0.8,"stroke":"#888888","strokeWidth":1},
      "encoding":{"x":{"field":"x","type":"quantitative","scale":{"type":"log","domain":[10,51000],"nice":false},"axis":{"values":[10,20,30,40,50,60,70,80,90,100,200,300,400,500,600,700,800,900,1000,2000,3000,4000,5000,6000,7000,8000,9000,10000,20000,30000,40000,50000],"labelExpr":"datum.value === 10 ? '10¹' : datum.value === 100 ? '10²' : datum.value === 1000 ? '10³' : datum.value === 10000 ? '10⁴' : ''","tickSize":{"condition":{"test":"datum.value === 10 || datum.value === 100 || datum.value === 1000 || datum.value === 10000","value":5},"value":3},"title":"Fluorescence intensity","labelPadding":4,"titlePadding":3}},
       "y":{"field":"y","type":"quantitative","scale":{"domain":[0,0.854],"nice":false},"axis":{"title":null,"ticks":false,"labels":false}}}},
     {"data":{"values":[{}]},"mark":{"type":"rule","stroke":"#999","strokeDash":[3,3],"strokeWidth":1},"encoding":{"x":{"datum":1175}}},
     {"data":{"values":[{}]},"mark":{"type":"rule","stroke":"#777","strokeWidth":1.2},"encoding":{"x":{"datum":51000}}},
     {"data":{"values":[{}]},"mark":{"type":"text","align":"left","baseline":"middle","fontSize":13,"color":"#555"},"encoding":{"x":{"datum":14},"y":{"datum":0.26},"text":{"value":"0"}}}
    ]}
 ],"spacing":0,"bounds":"flush"}
],"spacing":7},
{"resolve":{"scale":{"color":"independent","shape":"independent","fill":"independent","stroke":"independent"}},
 "hconcat":[
 {"vconcat":[
   {"width":210,"height":0,"data":{"values":[]},"mark":"point","encoding":{},
    "title":{"text":"d","anchor":"start","frame":"group","dx":-48,"fontSize":22,"fontWeight":"bold","color":"#000","offset":-24,"baseline":"alphabetic"}},
   {"width":210,"height":69,"view":{"stroke":"#777","strokeWidth":1.2},
    "title":{"text":"lipid peroxidation","fontSize":12.5,"fontWeight":"normal","color":"#333","offset":2},
    "layer":[
     {"data":{"name":"d_wt0"},"mark":{"type":"area","fill":"#d0d0d0","fillOpacity":0.85,"stroke":"#999999","strokeWidth":1},
      "encoding":{"x":{"field":"x","type":"quantitative","scale":{"type":"log","domain":[30.5,4040],"nice":false},"axis":{"orient":"bottom","values":[40,50,60,70,80,90,100,200,300,400,500,600,700,800,900,1000,2000,3000,4000],"labels":false,"domain":false,"title":null,"tickSize":{"condition":{"test":"datum.value === 100 || datum.value === 1000","value":5},"value":3}}},
       "y":{"field":"y","type":"quantitative","scale":{"domain":[0,2.65],"nice":false},"axis":{"values":[0,1,2],"title":null,"domain":false,"tickSize":4,"labelFontSize":13,"labelPadding":2,"labelOffset":-2}}}},
     {"data":{"name":"d_wt2"},"mark":{"type":"area","fill":"#7b7bc4","fillOpacity":0.7,"stroke":"#4a4aa3","strokeWidth":1},"encoding":{"x":{"field":"x","type":"quantitative"},"y":{"field":"y","type":"quantitative"}}},
     {"data":{"values":[{}]},"mark":{"type":"rule","stroke":"#999","strokeDash":[3,3],"strokeWidth":1},"encoding":{"x":{"datum":215}}},
     {"data":{"values":[{}]},"mark":{"type":"text","align":"left","baseline":"middle","fontSize":13,"color":"#333"},"encoding":{"x":{"datum":37.6},"y":{"datum":2.3},"text":{"value":"WT"}}},
     {"data":{"values":[{}]},"mark":{"type":"text","align":"left","baseline":"middle","fontSize":13,"color":"#a0a0a0"},"encoding":{"x":{"datum":67.6},"y":{"datum":1.65},"text":{"value":"0 h"}}},
     {"data":{"values":[{}]},"mark":{"type":"text","align":"left","baseline":"middle","fontSize":13,"color":"#5a5ab4"},"encoding":{"x":{"datum":433},"y":{"datum":1.65},"text":{"value":"2.0 h"}}}
    ]},
   {"width":210,"height":75,
    "layer":[
     {"data":{"name":"d_20"},"mark":{"type":"area","fill":"#ee6f6f","fillOpacity":0.8,"stroke":"#e8283a","strokeWidth":1},
      "encoding":{"x":{"field":"x","type":"quantitative","scale":{"type":"log","domain":[30.5,4040],"nice":false},"axis":null},
       "y":{"field":"y","type":"quantitative","scale":{"domain":[0,2.88],"nice":false},"axis":{"values":[0,1,2],"title":"Cell number (x 10³)","titleX":-35,"titleY":68,"titleAlign":"center","titleBaseline":"middle","titleAngle":270,"tickSize":4,"labelFontSize":13,"labelPadding":2}}}},
     {"data":{"values":[{}]},"mark":{"type":"rule","stroke":"#999","strokeDash":[3,3],"strokeWidth":1},"encoding":{"x":{"datum":215}}},
     {"data":{"values":[{}]},"mark":{"type":"rule","stroke":"#777","strokeWidth":1.2},"encoding":{"x":{"datum":4040}}},
     {"data":{"values":[{}]},"mark":{"type":"text","align":"left","baseline":"middle","fontSize":13,"color":"#555"},"encoding":{"x":{"datum":37.6},"y":{"datum":0.52},"text":{"value":"2.0 h"}}}
    ]},
   {"width":210,"height":34,
    "layer":[
     {"data":{"name":"d_15"},"mark":{"type":"area","fill":"#c060b0","fillOpacity":0.7,"stroke":"#a0409a","strokeWidth":1},
      "encoding":{"x":{"field":"x","type":"quantitative","scale":{"type":"log","domain":[30.5,4040],"nice":false},"axis":null},
       "y":{"field":"y","type":"quantitative","scale":{"domain":[0,1.31],"nice":false},"axis":{"title":null,"ticks":false,"labels":false}}}},
     {"data":{"values":[{}]},"mark":{"type":"rule","stroke":"#999","strokeDash":[3,3],"strokeWidth":1},"encoding":{"x":{"datum":215}}},
     {"data":{"values":[{}]},"mark":{"type":"rule","stroke":"#777","strokeWidth":1.2},"encoding":{"x":{"datum":4040}}},
     {"data":{"values":[{}]},"mark":{"type":"text","align":"left","baseline":"middle","fontSize":13,"color":"#555"},"encoding":{"x":{"datum":37.6},"y":{"datum":0.52},"text":{"value":"1.5"}}}
    ]},
   {"width":210,"height":35,
    "layer":[
     {"data":{"name":"d_10"},"mark":{"type":"area","fill":"#5cbf4c","fillOpacity":0.7,"stroke":"#2f9e3a","strokeWidth":1},
      "encoding":{"x":{"field":"x","type":"quantitative","scale":{"type":"log","domain":[30.5,4040],"nice":false},"axis":null},
       "y":{"field":"y","type":"quantitative","scale":{"domain":[0,1.35],"nice":false},"axis":{"title":null,"ticks":false,"labels":false}}}},
     {"data":{"values":[{}]},"mark":{"type":"rule","stroke":"#999","strokeDash":[3,3],"strokeWidth":1},"encoding":{"x":{"datum":215}}},
     {"data":{"values":[{}]},"mark":{"type":"rule","stroke":"#777","strokeWidth":1.2},"encoding":{"x":{"datum":4040}}},
     {"data":{"values":[{}]},"mark":{"type":"text","align":"left","baseline":"middle","fontSize":13,"color":"#555"},"encoding":{"x":{"datum":37.6},"y":{"datum":0.55},"text":{"value":"1.0"}}}
    ]},
   {"width":210,"height":35,
    "layer":[
     {"data":{"name":"d_05"},"mark":{"type":"area","fill":"#5fd0e0","fillOpacity":0.7,"stroke":"#2ab5c8","strokeWidth":1},
      "encoding":{"x":{"field":"x","type":"quantitative","scale":{"type":"log","domain":[30.5,4040],"nice":false},"axis":null},
       "y":{"field":"y","type":"quantitative","scale":{"domain":[0,1.35],"nice":false},"axis":{"title":null,"ticks":false,"labels":false}}}},
     {"data":{"values":[{}]},"mark":{"type":"rule","stroke":"#999","strokeDash":[3,3],"strokeWidth":1},"encoding":{"x":{"datum":215}}},
     {"data":{"values":[{}]},"mark":{"type":"rule","stroke":"#777","strokeWidth":1.2},"encoding":{"x":{"datum":4040}}},
     {"data":{"values":[{}]},"mark":{"type":"text","align":"left","baseline":"middle","fontSize":13,"color":"#555"},"encoding":{"x":{"datum":37.6},"y":{"datum":0.55},"text":{"value":"0.5"}}}
    ]},
   {"width":210,"height":33,
    "layer":[
     {"data":{"name":"d_00"},"mark":{"type":"area","fill":"#bdbdbd","fillOpacity":0.8,"stroke":"#707070","strokeWidth":1},
      "encoding":{"x":{"field":"x","type":"quantitative","scale":{"type":"log","domain":[30.5,4040],"nice":false},"axis":{"values":[40,50,60,70,80,90,100,200,300,400,500,600,700,800,900,1000,2000,3000,4000],"labelExpr":"datum.value === 100 ? '10²' : datum.value === 1000 ? '10³' : ''","tickSize":{"condition":{"test":"datum.value === 100 || datum.value === 1000","value":5},"value":3},"title":"Fluorescence intensity","labelPadding":4,"titlePadding":3}},
       "y":{"field":"y","type":"quantitative","scale":{"domain":[0,1.27],"nice":false},"axis":{"title":null,"ticks":false,"labels":false}}}},
     {"data":{"values":[{}]},"mark":{"type":"rule","stroke":"#999","strokeDash":[3,3],"strokeWidth":1},"encoding":{"x":{"datum":215}}},
     {"data":{"values":[{}]},"mark":{"type":"rule","stroke":"#777","strokeWidth":1.2},"encoding":{"x":{"datum":4040}}},
     {"data":{"values":[{}]},"mark":{"type":"text","align":"left","baseline":"middle","fontSize":13,"color":"#555"},"encoding":{"x":{"datum":37.6},"y":{"datum":0.55},"text":{"value":"0"}}}
    ]}
 ],"spacing":0,"bounds":"flush"},
 {"resolve":{"scale":{"color":"independent","shape":"independent","fill":"independent","stroke":"independent"}},
  "vconcat":[
  {"width":191,"height":52,"data":{"values":[]},"mark":"point","encoding":{},
   "title":{"text":"e","anchor":"start","frame":"group","dx":-53,"fontSize":22,"fontWeight":"bold","color":"#000","offset":-24,"baseline":"alphabetic"}},
  {"width":191,"height":250,"data":{"name":"e"},
   "layer":[
    {"mark":{"type":"errorbar","ticks":{"size":6},"thickness":1.1},
     "encoding":{"x":{"field":"t","type":"quantitative","title":"Time (h)","scale":{"domain":[0,6.3],"nice":false},"axis":{"values":[0,1,2,3,4,5,6],"labelExpr":"datum.value % 2 === 0 ? format(datum.value, 'd') : ''","tickSize":-4,"labelPadding":11,"labelFontSize":16,"titlePadding":3}},
      "y":{"field":"lo","type":"quantitative","title":"% Input cells recovered","scale":{"type":"log","domain":[0.003,224],"nice":false},"axis":{"values":[0.01,0.1,1,10,100],"labelExpr":"datum.value === 100 ? '10²' : datum.value === 1 ? '10⁰' : datum.value === 0.01 ? '10⁻²' : ''","tickSize":-4,"labelPadding":8,"labelFontSize":16,"titlePadding":2}},
      "y2":{"field":"hi"},
      "color":{"field":"s","type":"nominal","scale":{"domain":["ΔthyA","ΔthyA-ΔkatG","ΔthyA-ΔkatE"],"range":["#4d4d4d","#e8141c","#c45cb8"]},"legend":null}}},
    {"mark":{"type":"line","strokeWidth":1.5},
     "encoding":{"x":{"field":"t","type":"quantitative","title":"Time (h)"},"y":{"field":"v","type":"quantitative","title":"% Input cells recovered"},"color":{"field":"s","type":"nominal","legend":null}}},
    {"mark":{"type":"point","filled":true,"opacity":1,"size":60},
     "encoding":{"x":{"field":"t","type":"quantitative","title":"Time (h)"},"y":{"field":"v","type":"quantitative","title":"% Input cells recovered"},"color":{"field":"s","type":"nominal","legend":null},
      "shape":{"field":"s","type":"nominal","scale":{"domain":["ΔthyA","ΔthyA-ΔkatG","ΔthyA-ΔkatE"],"range":["square","triangle-down","circle"]},"legend":null}}},
    {"transform":[{"filter":"false"}],"mark":{"type":"point","filled":true,"opacity":1},
     "encoding":{
      "shape":{"field":"s","type":"nominal","scale":{"domain":["ΔthyA","ΔthyA-ΔkatG","ΔthyA-ΔkatE"],"range":["M-2,0H2M-0.58,-0.58H0.58V0.58H-0.58Z","M-2,0H2M0,0.75L0.72,-0.55H-0.72Z","M-2,0H2M0.65,0A0.65,0.65,0,1,1,-0.65,0A0.65,0.65,0,1,1,0.65,0Z"]},"legend":{"title":null,"orient":"none","legendX":9,"legendY":191,"symbolSize":144,"symbolStrokeWidth":1.5,"labelFontSize":13,"labelFontStyle":"italic","labelOffset":8,"rowPadding":-1,"padding":0,"labelColor":{"expr":"datum.value === 'ΔthyA' ? '#4d4d4d' : datum.value === 'ΔthyA-ΔkatG' ? '#e8141c' : '#c45cb8'"}}},
      "fill":{"field":"s","type":"nominal","scale":{"domain":["ΔthyA","ΔthyA-ΔkatG","ΔthyA-ΔkatE"],"range":["#4d4d4d","#e8141c","#c45cb8"]},"legend":{"title":null,"orient":"none","legendX":9,"legendY":191,"symbolSize":144,"symbolStrokeWidth":1.5,"labelFontSize":13,"labelFontStyle":"italic","labelOffset":8,"rowPadding":-1,"padding":0,"labelColor":{"expr":"datum.value === 'ΔthyA' ? '#4d4d4d' : datum.value === 'ΔthyA-ΔkatG' ? '#e8141c' : '#c45cb8'"}}},
      "stroke":{"field":"s","type":"nominal","scale":{"domain":["ΔthyA","ΔthyA-ΔkatG","ΔthyA-ΔkatE"],"range":["#4d4d4d","#e8141c","#c45cb8"]},"legend":{"title":null,"orient":"none","legendX":9,"legendY":191,"symbolSize":144,"symbolStrokeWidth":1.5,"labelFontSize":13,"labelFontStyle":"italic","labelOffset":8,"rowPadding":-1,"padding":0,"labelColor":{"expr":"datum.value === 'ΔthyA' ? '#4d4d4d' : datum.value === 'ΔthyA-ΔkatG' ? '#e8141c' : '#c45cb8'"}}}}}
   ],
   "resolve":{"scale":{"shape":"independent","fill":"independent","stroke":"independent"}}}
 ],"spacing":0,"bounds":"flush"}
],"spacing":23}
],"spacing":14
}
